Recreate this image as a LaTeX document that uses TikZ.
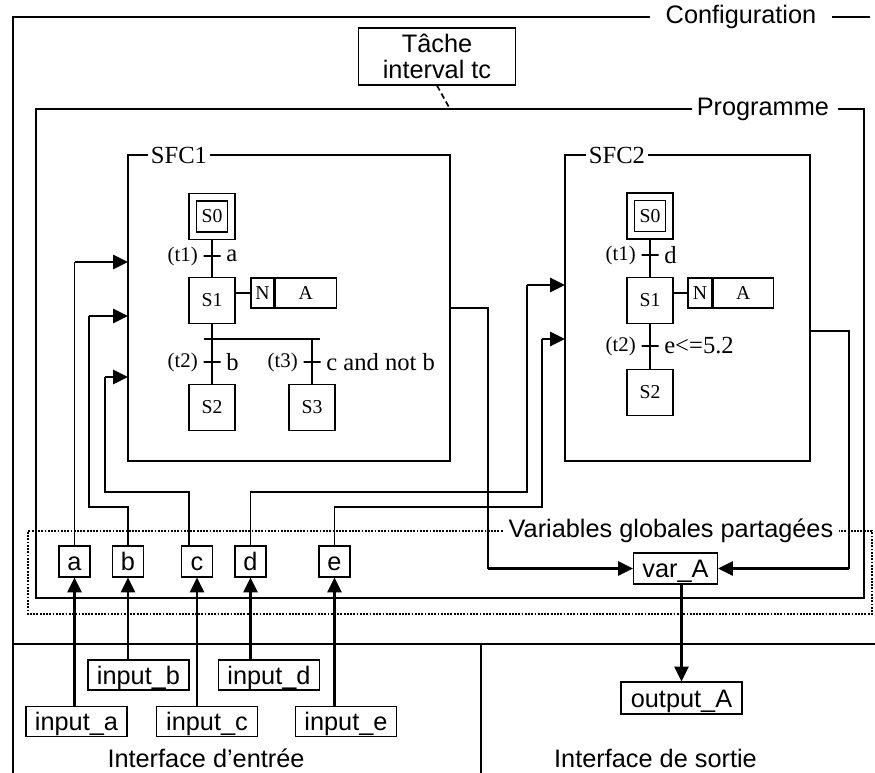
\documentclass[tikz,border=0pt]{standalone}
\usepackage{fontspec}
\setmainfont{Liberation Serif}
\setsansfont{Liberation Sans}
\usepackage{tikz}
\usetikzlibrary{arrows.meta,positioning}
\newcommand{\txtsans}{\sffamily\fontsize{18pt}{20pt}\selectfont}
\newcommand{\txtgrand}{\rmfamily\fontsize{17.5pt}{20pt}\selectfont}
\newcommand{\txtmoyen}{\rmfamily\fontsize{14.8pt}{17pt}\selectfont}
\newcommand{\txtpetit}{\rmfamily\fontsize{14pt}{16pt}\selectfont}

\begin{document}
\begin{tikzpicture}[x=0.025cm, y=-0.025cm, line width=0.8pt,
  etape/.style={draw, minimum size=1.15cm, inner sep=0pt, font=\txtpetit},
  etapeinit/.style={draw, double, double distance=4.5pt, minimum size=0.9625cm, inner sep=0pt, outer sep=3.05pt, font=\txtpetit},
  trans/.style={draw, minimum width=0.425cm, minimum height=0pt, inner sep=0pt},
  action/.style={draw, minimum height=0.75cm, inner sep=0pt, font=\txtpetit},
  var/.style={draw, minimum size=0.775cm, inner sep=0pt, text height=13pt, text depth=0pt, font=\txtsans},
  entree/.style={draw, minimum width=2.525cm, minimum height=0.75cm, inner sep=0pt, text height=13pt, text depth=0pt, font=\txtsans},
  titre/.style={inner ysep=0pt, font=\txtsans},
  sfctitre/.style={inner ysep=0pt, inner xsep=2pt, font=\txtgrand},
  fleche/.style={line width=1.5pt, -{Triangle[length=10.5pt,width=10pt]}},
  pointille/.style={densely dotted, line width=1.3pt}]
\useasboundingbox (0,0) rectangle (875,773);

% configuration et programme
\node[titre, inner xsep=11pt] (conf) at (741,17) {Configuration};
\draw[line width=1pt] (conf.west) -- (13,17) -- (13,773);
\draw[line width=1pt] (conf.east) -- (870,17);
\node[draw, align=center, font=\txtsans, minimum width=3.925cm, minimum height=1.425cm, inner sep=0pt] (tache) at (437,56.5) {Tâche\\[-1pt]interval tc};
\node[titre, anchor=west, inner xsep=3pt] (prog) at (692,109) {Programme};
\draw (prog.west) -| (36,598) -| (864,109) -- (838,109);
\draw[dashed, dash pattern=on 4pt off 2.5pt, line width=1.2pt] (tache.south) -- (450,109);

% SFC1
\node[sfctitre] (sfc1) at (179,155) {SFC1};
\draw (sfc1.west) -| (128,461) -| (450,155) -- (sfc1.east);
\node[etapeinit] (a0) at (212,216.5) {S0};
\node[etape] (a1) at (212,300.5) {S1};
\node[etape] (a2) at (212,407.5) {S2};
\node[etape] (a3) at (312,407.5) {S3};
\node[action, minimum width=0.575cm] (an) at (262.5,293) {N};
\node[action, minimum width=1.525cm, right=0pt of an] (aa) {A};
\draw (a1.east |- an.west) -- (an.west);
\draw (a0) -- (a1);
\draw (a1) -- (a2);
\coordinate (dvl) at (204,339);
\coordinate (dvr) at (320,339);
\draw (dvl) -- (dvr);
\draw (a3.north) -- (a3.north |- dvr);
\node[trans, label={[font=\txtmoyen]left:(t1)}, label={[font=\txtgrand]right:a}] (at1) at (212,256) {};
\node[trans, label={[font=\txtmoyen]left:(t2)}, label={[font=\txtgrand]right:b}] (at2) at (212,362) {};
\node[trans, label={[font=\txtmoyen]left:(t3)}, label={[font=\txtgrand]right:c and not b}] (at3) at (312,362) {};

% SFC2
\node[sfctitre] (sfc2) at (617,155) {SFC2};
\draw (sfc2.west) -| (565,461) -| (810,155) -- (sfc2.east);
\node[etapeinit] (b0) at (650,216) {S0};
\node[etape] (b1) at (650,300.5) {S1};
\node[etape] (b2) at (650,392.5) {S2};
\node[action, minimum width=0.6cm] (bn) at (700,293) {N};
\node[action, minimum width=1.5cm, right=0pt of bn] (ba) {A};
\draw (b1.east |- bn.west) -- (bn.west);
\draw (b0) -- (b1);
\draw (b1) -- (b2);
\node[trans, label={[font=\txtmoyen]left:(t1)}, label={[font=\txtgrand]right:d}] (bt1) at (650,255) {};
\node[trans, label={[font=\txtmoyen]left:(t2)}, label={[font=\txtgrand]right:e<=5.2}] (bt2) at (650,346) {};

% variables globales
\node[titre, inner xsep=4pt] (vg) at (671,531) {Variables globales partagées};
\draw[pointille] (vg.west) -| (28,614) -| (872,531) -- (vg.east);
\node[var] (va) at (74.5,561.5) {a};
\node[var] (vb) at (128,561.5) {b};
\node[var] (vc) at (197,561.5) {c};
\node[var] (vd) at (250.5,561.5) {d};
\node[var] (ve) at (334.5,561.5) {e};
\node[var, minimum width=2.1cm] (varA) at (675.5,568.5) {var\_A};

\coordinate (pa) at (128,262);
\coordinate (pb) at (128,316);
\coordinate (pc) at (128,377);
\coordinate (pd) at (565,285);
\coordinate (pe) at (565,339);
\coordinate (qa) at (450,308);
\coordinate (qb) at (810,331);
\draw (va.north) -- (va.north |- pa);
\draw[fleche] (va.north |- pa) -- (pa);
\draw (vb.north) |- (89,507) -- (89,316);
\draw[fleche] (89,316) -- (pb);
\draw (189,546) |- (105,492) -- (105,377);
\draw[fleche] (105,377) -- (pc);
\draw (vd.north) |- (527,492) -- (527,285);
\draw[fleche] (527,285) -- (pd);
\draw (ve.north) |- (542,507) -- (542,339);
\draw[fleche] (542,339) -- (pe);
\draw (qa) -| (488,568.5);
\draw[fleche] (488,568.5) -- (varA.west);
\draw (qb) -| (849,568.5);
\draw[fleche] (849,568.5) -- (varA.east);

% interfaces
\draw[line width=1.4pt] (13,644) -- (875,644);
\draw (481,644) -- (481,773);
\node[entree] (ina) at (76.5,721.5) {input\_a};
\node[entree] (inb) at (138.5,675) {input\_b};
\node[entree] (inc) at (207,721.5) {input\_c};
\node[entree] (ind) at (269,675) {input\_d};
\node[entree] (ine) at (346,721.5) {input\_e};
\node[entree, minimum width=3.025cm, minimum height=0.8cm] (outA) at (681.5,698) {output\_A};
\draw[fleche] (va.south |- ina.north) -- (va.south);
\draw[fleche] (vb.south |- inb.north) -- (vb.south);
\draw[fleche] (vc.south |- inc.north) -- (vc.south);
\draw[fleche] (vd.south |- ind.north) -- (vd.south);
\draw[fleche] (ve.south |- ine.north) -- (ve.south);
\draw[fleche] (outA.north |- varA.south) -- (outA.north);
\node[titre] (ie) at (206,758) {Interface d’entrée};
\node[titre] (is) at (655.5,758) {Interface de sortie};
\end{tikzpicture}
\end{document}
